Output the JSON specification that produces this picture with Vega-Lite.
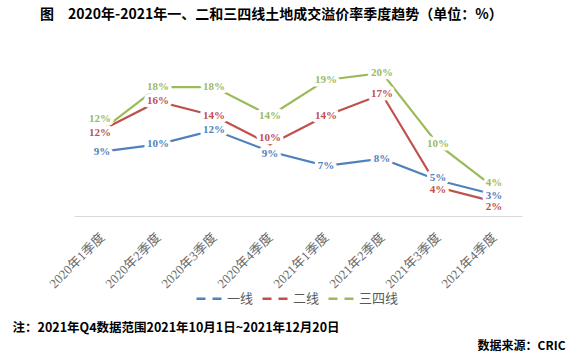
{
  "$schema": "https://vega.github.io/schema/vega-lite/v6.json",
  "autosize": {"type": "none"},
  "width": 448,
  "height": 179,
  "padding": {"left": 74, "top": 37, "right": 58, "bottom": 144},
  "background": "white",
  "config": {"view": {"stroke": null}},
  "title": {
    "text": "图　2020年-2021年一、二和三四线土地成交溢价率季度趋势（单位：%）",
    "anchor": "start",
    "frame": "group",
    "dx": -34,
    "offset": 15,
    "font": "Noto Sans CJK SC",
    "fontSize": 14,
    "fontWeight": "bold",
    "color": "#000000"
  },
  "data": {
    "values": [
      {"quarter": "2020年1季度", "series": "一线", "value": 0.09},
      {"quarter": "2020年2季度", "series": "一线", "value": 0.10},
      {"quarter": "2020年3季度", "series": "一线", "value": 0.12},
      {"quarter": "2020年4季度", "series": "一线", "value": 0.09},
      {"quarter": "2021年1季度", "series": "一线", "value": 0.07},
      {"quarter": "2021年2季度", "series": "一线", "value": 0.08},
      {"quarter": "2021年3季度", "series": "一线", "value": 0.05},
      {"quarter": "2021年4季度", "series": "一线", "value": 0.03},
      {"quarter": "2020年1季度", "series": "二线", "value": 0.12},
      {"quarter": "2020年2季度", "series": "二线", "value": 0.16},
      {"quarter": "2020年3季度", "series": "二线", "value": 0.14},
      {"quarter": "2020年4季度", "series": "二线", "value": 0.10},
      {"quarter": "2021年1季度", "series": "二线", "value": 0.14},
      {"quarter": "2021年2季度", "series": "二线", "value": 0.17},
      {"quarter": "2021年3季度", "series": "二线", "value": 0.04},
      {"quarter": "2021年4季度", "series": "二线", "value": 0.02},
      {"quarter": "2020年1季度", "series": "三四线", "value": 0.12},
      {"quarter": "2020年2季度", "series": "三四线", "value": 0.18},
      {"quarter": "2020年3季度", "series": "三四线", "value": 0.18},
      {"quarter": "2020年4季度", "series": "三四线", "value": 0.14},
      {"quarter": "2021年1季度", "series": "三四线", "value": 0.19},
      {"quarter": "2021年2季度", "series": "三四线", "value": 0.20},
      {"quarter": "2021年3季度", "series": "三四线", "value": 0.10},
      {"quarter": "2021年4季度", "series": "三四线", "value": 0.04}
    ]
  },
  "encoding": {
    "x": {
      "field": "quarter",
      "type": "ordinal",
      "sort": null,
      "scale": {"type": "point", "padding": 0.5},
      "axis": {
        "title": "注：2021年Q4数据范围2021年10月1日~2021年12月20日",
        "titleX": -62,
        "titleY": 111,
        "titleAlign": "left",
        "titleAnchor": null,
        "titleBaseline": "middle",
        "titleFont": "Noto Sans CJK SC",
        "titleFontSize": 12.5,
        "titleFontWeight": "bold",
        "titleColor": "#000000",
        "labelAngle": -45,
        "labelAlign": "right",
        "labelBaseline": "middle",
        "labelPadding": 19,
        "labelFont": "Liberation Serif, Noto Sans CJK SC",
        "labelFontSize": 13,
        "labelColor": "#6a6a6a",
        "ticks": false,
        "domainColor": "#D9D9D9",
        "domainWidth": 1,
        "grid": false
      }
    },
    "y": {
      "field": "value",
      "type": "quantitative",
      "scale": {"domain": [0, 0.25]},
      "axis": {
        "title": "数据来源：CRIC",
        "titleAngle": 0,
        "titleX": 491,
        "titleY": 308,
        "titleAlign": "right",
        "titleAnchor": null,
        "titleBaseline": "middle",
        "titleFont": "Noto Sans CJK SC",
        "titleFontSize": 12,
        "titleFontWeight": "bold",
        "titleColor": "#000000",
        "labels": false,
        "ticks": false,
        "domain": false,
        "grid": false
      }
    }
  },
  "layer": [
    {
      "mark": {"type": "line", "strokeWidth": 2.2},
      "encoding": {
        "color": {
          "field": "series",
          "type": "nominal",
          "scale": {"domain": ["一线", "二线", "三四线"], "range": ["#4F81BD", "#C0504D", "#9BBB59"]},
          "legend": {
            "title": null,
            "orient": "none",
            "legendX": 121,
            "legendY": 246,
            "direction": "horizontal",
            "symbolType": "stroke",
            "symbolSize": 784,
            "symbolStrokeWidth": 2.5,
            "symbolDash": [9, 7],
            "labelFont": "Noto Sans CJK SC",
            "labelFontSize": 13,
            "labelColor": "#595959",
            "labelOffset": 1,
            "columnPadding": 3
          }
        }
      }
    },
    {
      "mark": {
        "type": "text",
        "font": "Liberation Serif",
        "fontSize": 11,
        "fontWeight": "bold",
        "fill": "white",
        "stroke": "white",
        "strokeWidth": 7,
        "strokeJoin": "round",
        "dy": {"expr": "datum.quarter === '2020年1季度' ? (datum.series === '三四线' ? -11 : (datum.series === '二线' ? 3 : 0)) : datum.quarter === '2020年4季度' ? (datum.series === '二线' ? -6 : (datum.series === '一线' ? 2 : 0)) : datum.quarter === '2021年3季度' ? (datum.series === '二线' ? 3 : (datum.series === '一线' ? -2 : 0)) : datum.quarter === '2021年4季度' ? (datum.series === '二线' ? 5 : (datum.series === '三四线' ? -4 : 1)) : 0"},
        "dx": {"expr": "datum.quarter === '2020年1季度' && datum.series !== '一线' ? -2 : 0"}
      },
      "encoding": {
        "text": {"field": "value", "type": "quantitative", "format": ".0%"}
      }
    },
    {
      "mark": {
        "type": "text",
        "font": "Liberation Serif",
        "fontSize": 11,
        "fontWeight": "bold",
        "dy": {"expr": "datum.quarter === '2020年1季度' ? (datum.series === '三四线' ? -11 : (datum.series === '二线' ? 3 : 0)) : datum.quarter === '2020年4季度' ? (datum.series === '二线' ? -6 : (datum.series === '一线' ? 2 : 0)) : datum.quarter === '2021年3季度' ? (datum.series === '二线' ? 3 : (datum.series === '一线' ? -2 : 0)) : datum.quarter === '2021年4季度' ? (datum.series === '二线' ? 5 : (datum.series === '三四线' ? -4 : 1)) : 0"},
        "dx": {"expr": "datum.quarter === '2020年1季度' && datum.series !== '一线' ? -2 : 0"}
      },
      "encoding": {
        "text": {"field": "value", "type": "quantitative", "format": ".0%"},
        "color": {"field": "series", "type": "nominal", "legend": null}
      }
    }
  ]
}
